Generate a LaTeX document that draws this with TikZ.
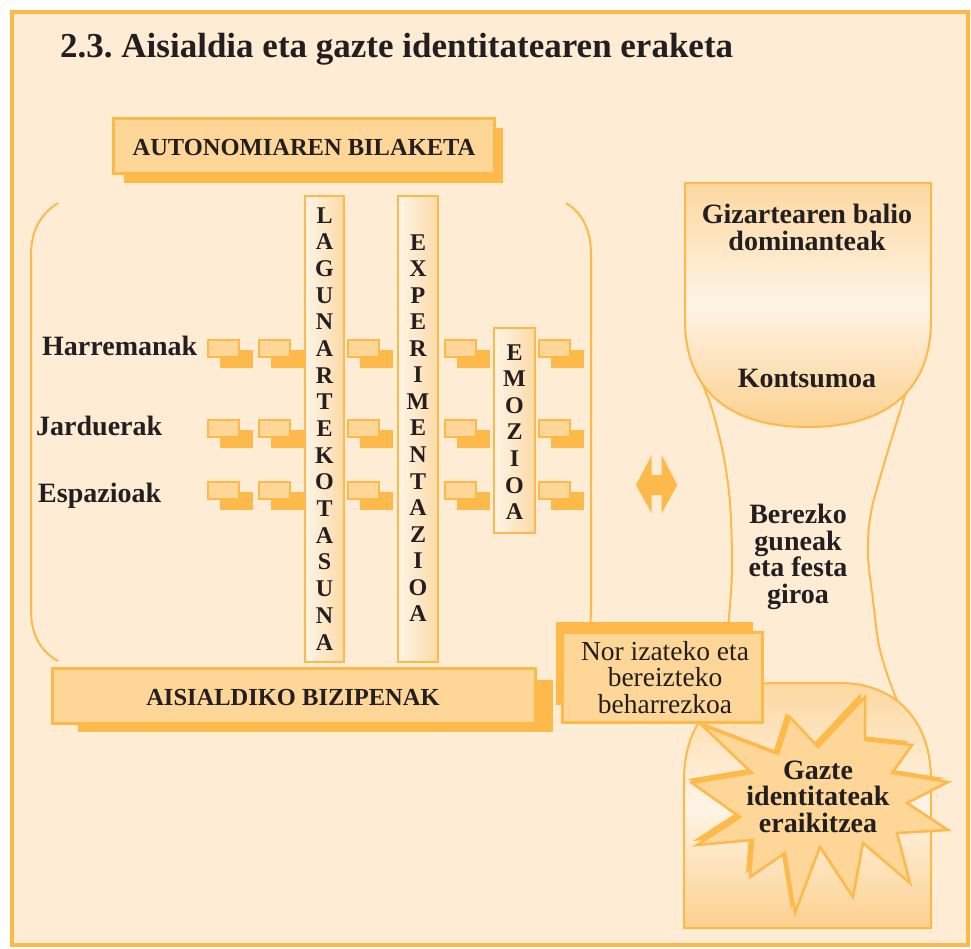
\documentclass[tikz,border=0pt]{standalone}
\usepackage{fontspec}
\setmainfont{Liberation Serif}
\frenchspacing
\definecolor{bg}{RGB}{254,237,212}
\definecolor{org}{RGB}{253,185,74}
\definecolor{boxfill}{RGB}{253,214,152}
\definecolor{light}{RGB}{254,244,230}
\definecolor{vshade}{RGB}{253,218,166}
\definecolor{txt}{RGB}{35,31,32}
\definecolor{cuptop}{RGB}{253,216,160}
\definecolor{cupbot}{RGB}{253,208,142}
\begin{document}
\begin{tikzpicture}[x=1pt,y=-1pt,
  ln/.style={draw=org, line width=2pt},
  frontbox/.style={draw=org, line width=3pt, fill=boxfill},
  shadowbox/.style={fill=org},
  title/.style={font=\fontsize{35}{35}\selectfont\bfseries, text=txt, inner sep=0pt, anchor=base west},
  lbl/.style={font=\fontsize{28}{28}\selectfont\bfseries, text=txt, inner sep=0pt, anchor=base west},
  caps/.style={font=\fontsize{24.5}{24.5}\selectfont\bfseries, text=txt, inner sep=0pt, anchor=base},
  letter/.style={font=\fontsize{24}{24}\selectfont\bfseries, text=txt, inner sep=0pt, anchor=base},
  line/.style={font=\fontsize{28}{28}\selectfont\bfseries, text=txt, inner sep=0pt, anchor=base},
  multi/.style={font=\fontsize{28}{26.5}\selectfont\bfseries, text=txt, inner sep=0pt, anchor=base, align=center},
  regmulti/.style={font=\fontsize{27.5}{26.5}\selectfont, text=txt, inner sep=0pt, anchor=base, align=center},
  vbox/.style={draw=org, line width=2.5pt, left color=light, right color=vshade},
]
\useasboundingbox (0,0) rectangle (971,948);
% frame
\draw[draw=org, line width=4pt, fill=bg] (12,12) rectangle (968,945);
% title
\node[title] (title) at (60,57) {2.3. Aisialdia eta gazte identitatearen eraketa};

% AUTONOMIAREN BILAKETA
\fill[shadowbox] (124,128) rectangle (503,183);
\draw[frontbox] (113,118) rectangle (494,173);
\node[caps] (auto) at (304,155) {AUTONOMIAREN BILAKETA};

% brackets
\draw[ln] (58,203) .. controls (40,214) and (31,232) .. (31,255) -- (31,610) .. controls (31,634) and (40,651) .. (58,661);
\draw[ln] (566,203) .. controls (584,214) and (591,232) .. (591,255) -- (591,610) .. controls (591,634) and (584,651) .. (566,661);

% row labels
\node[lbl] (harr) at (42,355) {Harremanak};
\node[lbl] (jard) at (36,435) {Jarduerak};
\node[lbl] (espa) at (38,502) {Espazioak};

% icons
\foreach \r in {339,419,481} {
  \foreach \c in {207,258,347,444,538} {
    \fill[org] (\c+13,\r+11) rectangle (\c+46,\r+29);
    \draw[draw=org, line width=2.5pt, fill=boxfill] (\c+1.2,\r+1.2) rectangle (\c+31.8,\r+17.8);
  }
}

% vertical boxes
\draw[vbox] (305,196) rectangle (344,662);
\draw[vbox] (398,196) rectangle (438,662);
\draw[vbox] (494,328) rectangle (535,533);
\foreach \l [count=\i from 0] in {L,A,G,U,N,A,R,T,E,K,O,T,A,S,U,N,A}
  \node[letter] (lag\i) at (324.5,223+26.69*\i) {\l};
\foreach \l [count=\i from 0] in {E,X,P,E,R,I,M,E,N,T,A,Z,I,O,A}
  \node[letter] (exp\i) at (418,250+26.57*\i) {\l};
\foreach \l [count=\i from 0] in {E,M,O,Z,I,O,A}
  \node[letter] (emo\i) at (514.5,360+26.6*\i) {\l};

% AISIALDIKO BIZIPENAK
\fill[shadowbox] (78,680) rectangle (553,732);
\draw[frontbox] (52,668) rectangle (535,723);
\node[caps] (aisi) at (293,705) {AISIALDIKO BIZIPENAK};

% double arrow
\fill[org] (636,485) -- (651.7,455) -- (651.7,475) -- (661.7,475) -- (661.7,455) -- (677.3,485)
  -- (661.7,513.3) -- (661.7,495) -- (651.7,495) -- (651.7,513.3) -- cycle;

% goblet stem
\draw[ln] plot[smooth] coordinates {(690,355) (710,403) (723,453) (730,503) (732,570) (728,630) (722,700)};
\draw[ln] plot[smooth] coordinates {(906,392) (873,503) (868,553) (873,600) (880,650) (897,700) (925,750)};
% goblet cup
\shade[top color=cuptop, bottom color=cupbot, middle color=light]
  (685,183) -- (931,183) -- (931,320) .. controls (931,392) and (885,427) .. (808,427)
  .. controls (731,427) and (685,392) .. (685,320) -- cycle;
\draw[ln] (685,183) -- (931,183) -- (931,320) .. controls (931,392) and (885,427) .. (808,427)
  .. controls (731,427) and (685,392) .. (685,320) -- cycle;
\node[multi] (giz) at (807,250) {Gizartearen balio\\dominanteak};
\node[line] (kont) at (807,387) {Kontsumoa};
\node[multi] (ber) at (798,603) {Berezko\\guneak\\eta festa\\giroa};

% Gazte box
\shade[top color=cuptop, bottom color=cupbot, middle color=light]
  (684,928) -- (684,780) .. controls (684,720) and (720,683) .. (775,683) -- (840,683)
  .. controls (895,683) and (931,720) .. (931,780) -- (931,928) -- cycle;
\draw[ln] (684,928) -- (684,780) .. controls (684,720) and (720,683) .. (775,683) -- (840,683)
  .. controls (895,683) and (931,720) .. (931,780) -- (931,928) -- cycle;

% Nor izateko box
\fill[shadowbox] (556,622) rectangle (753,705);
\draw[frontbox] (562,632) rectangle (762,722);
\node[regmulti] (nor) at (665,713) {Nor izateko eta\\bereizteko\\beharrezkoa};

% starburst
\def\starpath{(701.7,725) -- (778,754) -- (790,717) -- (818,747) -- (865,697) -- (865,740)
  -- (912,745) -- (892,773) -- (948,782) -- (907,803) -- (948,830) -- (897,833)
  -- (910,883) -- (863,843) -- (853,897) -- (820,847) -- (795,913) -- (785,853)
  -- (750,877) -- (753,840) -- (697,845) -- (740,817) -- (692,783) -- (752,773) -- cycle}
\fill[org, shift={(-4,-4)}] \starpath;
\draw[draw=org, line width=2.5pt, fill=boxfill] \starpath;
\node[multi] (gaz) at (818,832) {Gazte\\identitateak\\eraikitzea};
\end{tikzpicture}
\end{document}
